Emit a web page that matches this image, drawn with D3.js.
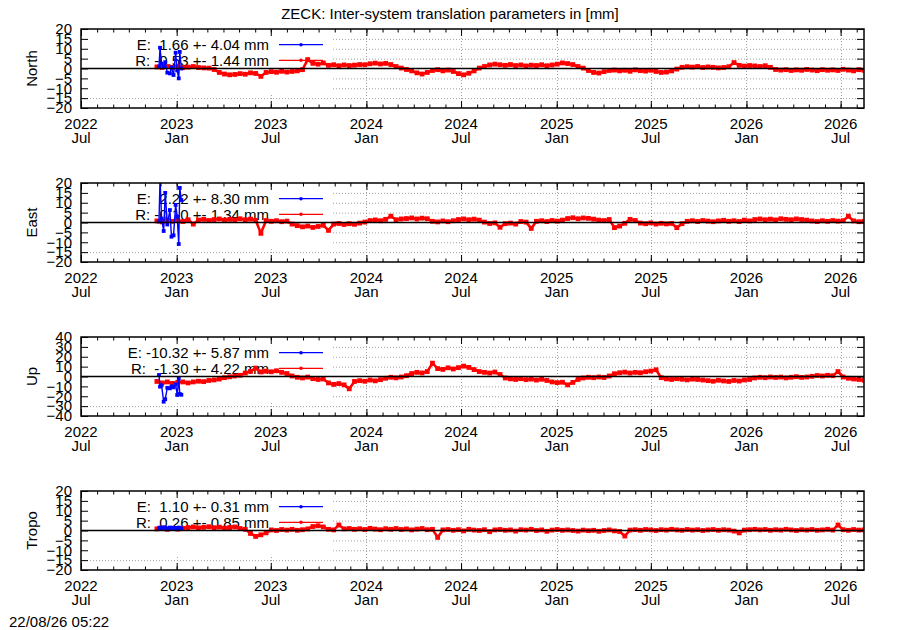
<!DOCTYPE html>
<html>
<head>
<meta charset="utf-8">
<script src="https://cdn.jsdelivr.net/npm/d3@7"></script>
<style>
    body { margin: 0; background: #fff; }
    text { font-family: "Liberation Sans", Arial, sans-serif; font-size: 15px; fill: #000; white-space: pre; }
</style>
</head>
<body>
<div id="chart"></div>
<script>
// title / labels
const title = 'ZECK: Inter-system translation parameters in [mm]';
const stamp = '22/08/26 05:22';
const panelNames = ['North', 'East', 'Up', 'Tropo'];

// x axis: tick dates and their two-line labels
const xTickDates = ['2022-07-01', '2023-01-01', '2023-07-01', '2024-01-01', '2024-07-01',
    '2025-01-01', '2025-07-01', '2026-01-01', '2026-07-01'];
const xTickYears = ['2022', '2023', '2023', '2024', '2024', '2025', '2025', '2026', '2026'];
const xTickMonths = ['Jul', 'Jan', 'Jul', 'Jan', 'Jul', 'Jan', 'Jul', 'Jan', 'Jul'];

// y ticks
const ticks20 = [-20, -15, -10, -5, 0, 5, 10, 15, 20];
const ticks40 = [-40, -30, -20, -10, 0, 10, 20, 30, 40];

// legend texts
const eLabels = ['E:  1.66 +- 4.04 mm', 'E:  2.22 +- 8.30 mm', 'E: -10.32 +- 5.87 mm', 'E:  1.10 +- 0.31 mm'];
const rLabels = ['R: -0.53 +- 1.44 mm', 'R: -0.10 +- 1.34 mm', 'R:  -1.30 +- 4.22 mm', 'R:  0.26 +- 0.85 mm'];

// R series: one value every 10 days starting 2022-11-24
const rStart = '2022-11-24';
const rStepDays = 10;
const northR = [0.8, 0.5, 1.0, 0.6, 0.9, 0.4, 0.7, 1.0, 0.5, 0.3, 0.2,
    -0.5,
    -2.0, -2.8, -3.2, -3.0, -2.6, -2.9, -2.2, -2.5,
    -4.0, -2.0,
    -1.6, -1.9, -1.4, -1.8, -1.5, -1.2, -0.6,
    4.5,
    2.6, 2.2, 2.8,
    1.6, 1.9, 1.4, 1.8, 1.5, 1.7, 2.0, 1.9,
    2.4, 2.7, 2.3, 2.6, 2.0,
    1.0, 0.2, -0.5, -1.2,
    -2.2, -2.8, -2.0,
    -1.0, -0.6, -1.2, -0.8, -1.5,
    -2.6, -3.2, -2.4, -1.2,
    0.2, 1.0, 1.8,
    2.2, 1.9, 1.6, 2.0, 1.5, 1.8, 1.3, 1.7, 1.5, 1.9, 1.4, 1.8, 2.2,
    2.8, 2.5, 2.0,
    1.0, 0.2, -1.0,
    -2.0, -2.3, -1.6,
    -1.0, -0.8, -1.2, -0.9, -1.4, -0.7, -1.1, -1.3, -0.9, -1.5,
    -2.0, -1.8, -1.2, -0.3,
    0.6, 0.9, 0.7, 1.0, 0.5, 0.8, 0.6, 0.3, 0.5, 0.9,
    3.0,
    1.6, 1.2, 1.5, 1.3, 1.0, 1.4, 0.6,
    -0.5, -0.8, -0.6, -1.0, -0.7, -0.9, -0.5, -0.8, -1.1, -0.6, -0.9, -0.7, -1.0, -0.4, -0.8, -1.2, -0.6, -0.9];
const eastR = [0.8, 0.3, 1.2, 0.6, 1.0, 0.5,
    1.4, -0.8, 1.2, 1.6, 1.0, 1.5, 1.8, 1.2, 1.6, 1.3, 1.9, 1.4, 1.7, 1.1,
    -5.5,
    1.0, 0.6, 0.9, 0.4, 0.7,
    -0.8, -1.6, -2.2, -1.8, -2.5, -2.0, -1.4,
    -4.0,
    -0.8, -0.5, -1.0, -0.6, -0.9, -0.3, 0.2,
    1.0, 1.3, 0.9, 1.6, 3.2, 1.4, 1.8,
    2.0, 2.3, 1.8, 2.2, 1.9,
    0.6, 0.3, 0.8, 0.4, 0.9,
    1.5, 1.8, 1.4, 1.7, 1.2,
    0.2, -0.5, -0.2, -2.4, -0.6, -0.3, -0.8,
    0.5, 0.2,
    -3.0,
    0.6, 0.9, 0.5, 1.0, 0.7, 1.2,
    2.0, 2.4, 1.9, 2.3, 2.1, 1.7,
    1.2, 1.0, 1.5,
    -2.6, -1.8, -0.4,
    1.6, 1.0,
    -0.3, -0.6, -0.2, -0.8, -0.4, -0.7, -0.5, -2.6, -0.6,
    0.6, 0.9, 0.5, 1.0, 0.7, 0.4, 0.8, 1.1, 0.6, 0.9, 0.5, 1.2, 0.8,
    1.5, 1.8, 1.4, 1.7, 1.3, 1.9, 1.6, 1.4, 1.8, 1.5, 1.2,
    0.8, 0.5, 0.9, 0.6, 1.0, 0.7, 0.9, 3.2, 0.8, 0.4, 0.6];
const upR = [-5.0, -6.5, -5.5, -7.0, -6.0, -5.5,
    -6.5, -5.5, -4.8, -5.2, -4.0, -3.5, -2.6,
    -1.2, -0.3, 0.5, 1.2,
    3.5, 5.2, 8.5, 4.6, 5.4, 4.8, 5.8, 4.2, 3.0,
    0.5, -0.8, -1.5, -0.6,
    -2.2, -3.0, -2.5,
    -6.5, -8.0, -7.2, -8.5,
    -12.5,
    -5.0, -4.2, -4.8, -3.6, -4.4, -3.2,
    -1.8, -0.8, -1.4, -0.5, 0.8,
    3.0, 4.2, 3.6, 5.0,
    13.5, 8.0, 7.2, 8.8, 7.6, 9.0, 10.5, 9.2, 7.0,
    5.0, 4.2, 3.5, 4.5, 2.0,
    -1.5, -2.4, -3.0, -2.2, -3.2, -2.6, -3.6, -2.8, -4.0,
    -5.5, -6.2, -5.8, -8.5, -6.0,
    -3.0, -1.5, -0.8, -1.2, -0.5, -1.0, 0.5,
    2.8, 3.8, 4.4, 3.5, 4.2, 3.8, 4.8, 5.5, 6.8,
    -1.2, -2.4, -3.0, -2.2, -2.8, -3.4, -2.6, -3.0, -3.6,
    -4.2, -4.8, -3.8, -4.5, -5.0, -4.0, -4.6, -3.5, -3.0,
    -1.5, -0.8, -1.2, -0.5, -1.0, -0.6, -1.4, -0.8, -0.2, -0.9, -0.5, 0.2, 1.0,
    0.5, 1.2, 0.8, 5.0, -0.5, -1.8, -2.5, -3.0, -3.8];
const tropoR = [0.8, 1.2, 0.6, 1.0, 0.7, 1.1,
    1.5, 1.8, 1.3, 1.6, 1.9, 1.4, 1.7, 1.2, 1.5, 1.8, 1.0, 0.6,
    -1.5, -3.0, -2.2, -1.2,
    0.3, 0.0, 0.5, 0.2, 0.6, 0.1, 0.4, 0.8,
    2.0, 2.4, 1.8, 0.6,
    0.3, 2.8,
    0.8, 1.0, 0.6, 0.9, 0.5, 1.1, 0.7, 0.4, 0.9, 0.6, 1.0, 0.5, 0.8, 0.3, 0.7, 1.0, 0.4, 0.6,
    -3.5,
    0.3, 0.5, 0.1, 0.4, -0.2, 0.6, 0.2, 0.0, 0.4, -0.6, 0.3, 0.5, 0.1, 0.3, -0.3, 0.4, 0.2, 0.6, 0.0, 0.3, -0.4, 0.2, 0.5, 0.1, 0.3,
    0.0, -0.3, 0.2, -0.1, 0.1, -0.4, 0.0, 0.3, -0.2, -0.5,
    -2.8,
    0.2, 0.4, 0.1, 0.5, 0.3, 0.0, 0.4, 0.2, 0.6, 0.3, 0.1, 0.5, 0.2, 0.4, 0.0, 0.3, 0.5, 0.1, 0.4, 0.2,
    -0.3, -1.2, 0.2, 0.4, 0.6, 0.3, 0.5, 0.1, 0.4, 0.2, 0.6, 0.3, 0.0, 0.4, 0.2, 0.5, 0.1, 0.3, 0.6, 0.2,
    2.8,
    0.4, 0.1, 0.5, 0.2, 0.3];

// E series: short run at the start
const eDates = ['2022-11-28', '2022-11-30', '2022-12-03', '2022-12-07', '2022-12-10', '2022-12-14', '2022-12-19',
    '2022-12-22', '2022-12-26', '2022-12-30', '2023-01-02', '2023-01-05', '2023-01-07', '2023-01-10'];
const northE = [1.0, 10.5, 2.5, 1.0, 3.2, -2.1, -2.5, 0.5, -3.3, 8.0, -1.0, -5.0, 8.4, 0.0];
const eastE = [0.5, 22.0, 2.0, -4.3, 15.0, -1.0, 6.3, -7.2, -6.5, 8.9, 3.0, -10.9, 17.5, 11.4];
const upE = [1.5, -10.3, -9.0, -25.5, -23.0, -11.5, -12.0, -10.0, -11.0, -8.0, -18.7, -2.0, -17.7, -18.5];
const tropoE = [1.2, 1.5, 1.3, 1.6, 1.4, 1.1, 1.5, 1.2, 1.4, 1.3, 1.0, 1.5, 1.2, 1.0];

const totalWidth = 900;
const totalHeight = 630;
const left = 81;
const right = 864;
const panelTops = [29, 183, 337, 491];
const panelHeight = 79;
const keyRight = 331;
const keyHeight = 64;
const fontFamily = '"Liberation Sans", Arial, sans-serif';

const svg = d3.select('#chart').append('svg')
    .attr('width', totalWidth)
    .attr('height', totalHeight);

svg.append('text')
    .attr('x', 450)
    .attr('y', 19)
    .attr('text-anchor', 'middle')
    .text(title);

svg.append('text')
    .attr('x', 9)
    .attr('y', 627)
    .text(stamp);

const parse = d3.utcParse('%Y-%m-%d');
const x = d3.scaleUtc()
    .domain([parse('2022-07-01'), parse('2026-08-15')])
    .range([left, right]);
const majorDates = xTickDates.map(parse);
const minorDates = d3.utcMonth.range(x.domain()[0], x.domain()[1]);

const r0 = parse(rStart);
const rDate = i => d3.utcDay.offset(r0, i * rStepDays);

const panels = [
    { name: panelNames[0], ticks: ticks20, r: northR, e: northE },
    { name: panelNames[1], ticks: ticks20, r: eastR, e: eastE },
    { name: panelNames[2], ticks: ticks40, r: upR, e: upE },
    { name: panelNames[3], ticks: ticks20, r: tropoR, e: tropoE }
];

panels.forEach((p, k) => {
    const top = panelTops[k];
    const bottom = top + panelHeight;
    const y = d3.scaleLinear()
        .domain(d3.extent(p.ticks))
        .range([bottom, top]);
    const g = svg.append('g');

    // grid
    const grid = g.append('g')
        .attr('stroke', '#a0a0a0')
        .attr('stroke-dasharray', '1,2');
    grid.selectAll('.hg')
        .data(p.ticks.slice(1, -1).filter(t => t !== 0))
        .enter()
        .append('line')
        .attr('x1', left).attr('x2', right)
        .attr('y1', d => y(d) + 0.5).attr('y2', d => y(d) + 0.5);
    grid.selectAll('.vg')
        .data(majorDates.slice(1))
        .enter()
        .append('line')
        .attr('x1', d => Math.round(x(d)) + 0.5).attr('x2', d => Math.round(x(d)) + 0.5)
        .attr('y1', top).attr('y2', bottom);

    // opaque key box
    g.append('rect')
        .attr('x', left + 1)
        .attr('y', top + 1)
        .attr('width', keyRight - left)
        .attr('height', keyHeight)
        .attr('fill', '#fff');

    // key
    const keyRows = [
        { label: eLabels[k], color: '#0000ff', dy: 15.7 },
        { label: rLabels[k], color: '#ff0000', dy: 31.3 }
    ];
    keyRows.forEach(row => {
        g.append('text')
            .attr('x', 269)
            .attr('y', top + row.dy + 5.5)
            .attr('text-anchor', 'end')
            .text(row.label);
        g.append('line')
            .attr('x1', 279).attr('x2', 323)
            .attr('y1', top + row.dy).attr('y2', top + row.dy)
            .attr('stroke', row.color)
            .attr('stroke-width', 1.2);
        g.append('circle')
            .attr('cx', 301).attr('cy', top + row.dy)
            .attr('r', 1.8)
            .attr('fill', row.color);
    });

    // data
    const clipId = `clip${k}`;
    svg.append('clipPath').attr('id', clipId)
        .append('rect')
        .attr('x', left).attr('y', top)
        .attr('width', right - left).attr('height', panelHeight);
    const plot = g.append('g').attr('clip-path', `url(#${clipId})`);

    const rData = p.r.map((v, i) => [rDate(i), v]);
    const eData = p.e.map((v, i) => [parse(eDates[i]), v]);
    const line = d3.line().x(d => x(d[0])).y(d => y(d[1]));

    [[rData, '#ff0000', 2.6, 2.4], [eData, '#0000ff', 1.4, 1.9]].forEach(([data, color, sw, pr]) => {
        plot.append('path')
            .datum(data)
            .attr('d', line)
            .attr('fill', 'none')
            .attr('stroke', color)
            .attr('stroke-width', sw)
            .attr('stroke-linejoin', 'round');
        plot.selectAll(null)
            .data(data)
            .enter()
            .append('rect')
            .attr('x', d => x(d[0]) - pr)
            .attr('y', d => y(d[1]) - pr)
            .attr('width', pr * 2)
            .attr('height', pr * 2)
            .attr('fill', color);
    });

    // zero line
    g.append('line')
        .attr('x1', left).attr('x2', right)
        .attr('y1', y(0)).attr('y2', y(0))
        .attr('stroke', '#000')
        .attr('stroke-width', 1.5);

    // ticks, mirrored on all four sides
    const noLabel = a => a.tickFormat('');
    g.append('g')
        .attr('transform', `translate(${left}, 0)`)
        .call(d3.axisLeft(y).tickValues(p.ticks).tickSize(-7).tickPadding(9))
        .call(a => a.select('.domain').remove())
        .call(a => a.selectAll('text')
            .attr('font-size', 15)
            .attr('font-family', fontFamily));
    g.append('g')
        .attr('transform', `translate(${right}, 0)`)
        .call(noLabel(d3.axisRight(y).tickValues(p.ticks).tickSize(-7)))
        .call(a => a.select('.domain').remove());
    g.append('g')
        .attr('transform', `translate(0, ${bottom})`)
        .call(noLabel(d3.axisBottom(x).tickValues(majorDates).tickSize(-7)))
        .call(a => a.select('.domain').remove());
    g.append('g')
        .attr('transform', `translate(0, ${bottom})`)
        .call(noLabel(d3.axisBottom(x).tickValues(minorDates).tickSize(-3.5)))
        .call(a => a.select('.domain').remove());
    g.append('g')
        .attr('transform', `translate(0, ${top})`)
        .call(noLabel(d3.axisTop(x).tickValues(majorDates).tickSize(-7)))
        .call(a => a.select('.domain').remove());
    g.append('g')
        .attr('transform', `translate(0, ${top})`)
        .call(noLabel(d3.axisTop(x).tickValues(minorDates).tickSize(-3.5)))
        .call(a => a.select('.domain').remove());

    // x labels
    const xl = g.selectAll('.xl')
        .data(majorDates)
        .enter()
        .append('text')
        .attr('text-anchor', 'middle')
        .attr('x', d => x(d));
    xl.append('tspan')
        .attr('x', d => x(d))
        .attr('y', bottom + 21)
        .text((d, i) => xTickYears[i]);
    xl.append('tspan')
        .attr('x', d => x(d))
        .attr('y', bottom + 35)
        .text((d, i) => xTickMonths[i]);

    // y title
    svg.append('text')
        .attr('transform', `translate(37, ${top + panelHeight / 2}) rotate(-90)`)
        .attr('text-anchor', 'middle')
        .text(p.name);

    // border
    g.append('rect')
        .attr('x', left).attr('y', top)
        .attr('width', right - left).attr('height', panelHeight)
        .attr('fill', 'none')
        .attr('stroke', '#000')
        .attr('stroke-width', 1.5);
});
</script>
</body>
</html>
